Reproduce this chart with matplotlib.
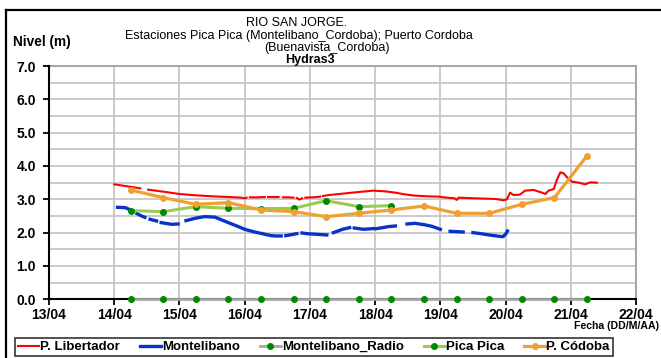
import numpy as np
import matplotlib
matplotlib.use("Agg")
import matplotlib.pyplot as plt
from matplotlib.lines import Line2D

plt.rcParams['font.family'] = ['Liberation Sans', 'DejaVu Sans']

# ---- data -------------------------------------------------------------
nan = np.nan

dias = [13, 14, 15, 16, 17, 18, 19, 20, 21, 22]
etiquetas_x = ["13/04", "14/04", "15/04", "16/04", "17/04",
               "18/04", "19/04", "20/04", "21/04", "22/04"]
niveles_y = [0, 1, 2, 3, 4, 5, 6, 7]
etiquetas_y = ["0.0", "1.0", "2.0", "3.0", "4.0", "5.0", "6.0", "7.0"]

# P. Libertador (hourly-ish record, NaN = missing readings)
libertador_t = [14.00, 14.10, 14.23, 14.40, nan, 14.52, 14.75, 15.00, 15.25, 15.50,
                15.75, 15.95, 16.00, 16.03, nan, 16.08, 16.20, 16.31, nan, 16.36,
                16.45, 16.52, nan, 16.59, 16.68, 16.75, nan, 16.80, 16.84, 16.88,
                nan, 16.93, 17.05, 17.16, nan, 17.20, 17.30, 17.45, 17.60, 17.75,
                17.97, 18.15, 18.31, 18.45, 18.61, 18.80, 18.97, 19.10, 19.22, 19.25,
                19.28, 19.40, 19.53, 19.70, 19.85, 19.97, 20.02, 20.07, 20.12, 20.22,
                20.30, 20.43, 20.56, 20.61, 20.66, 20.74, 20.79, 20.84, 20.89, 20.97,
                21.02, 21.12, 21.22, 21.30, 21.40]
libertador_v = [3.45, 3.42, 3.38, 3.33, nan, 3.29, 3.23, 3.16, 3.12, 3.09,
                3.07, 3.05, 3.03, 3.05, nan, 3.06, 3.06, 3.07, nan, 3.07,
                3.07, 3.07, nan, 3.06, 3.06, 3.05, nan, 3.04, 2.99, 3.03,
                nan, 3.05, 3.06, 3.08, nan, 3.10, 3.13, 3.16, 3.19, 3.22,
                3.26, 3.24, 3.20, 3.15, 3.11, 3.09, 3.08, 3.05, 3.03, 2.98,
                3.05, 3.04, 3.03, 3.02, 3.01, 2.97, 3.00, 3.20, 3.13, 3.14,
                3.26, 3.28, 3.20, 3.16, 3.26, 3.31, 3.60, 3.81, 3.78, 3.60,
                3.53, 3.50, 3.45, 3.51, 3.50]

# Montelibano
montelibano_t = [14.05, 14.17, 14.30, nan, 14.35, 14.42, 14.47, nan, 14.55, 14.65,
                 nan, 14.72, 14.88, 14.98, nan, 15.10, 15.24, 15.35, nan, 15.40,
                 15.50, nan, 15.55, 15.75, 15.93, 16.00, 16.13, 16.36, nan, 16.41,
                 16.48, 16.56, nan, 16.63, 16.72, 16.80, nan, 16.88, 16.95, 17.10,
                 17.26, nan, 17.36, 17.50, 17.61, nan, 17.68, 17.82, 17.97, nan,
                 18.02, 18.15, nan, 18.20, 18.31, nan, 18.49, 18.61, 18.75, 18.87,
                 19.00, nan, 19.15, 19.25, 19.35, nan, 19.50, 19.62, 19.75, 19.90,
                 19.96, 20.00, 20.03]
montelibano_v = [2.76, 2.75, 2.64, nan, 2.57, 2.50, 2.46, nan, 2.40, 2.35,
                 nan, 2.30, 2.25, 2.26, nan, 2.36, 2.43, 2.47, nan, 2.48,
                 2.47, nan, 2.46, 2.30, 2.16, 2.10, 2.03, 1.93, nan, 1.91,
                 1.90, 1.90, nan, 1.91, 1.94, 1.97, nan, 1.99, 1.97, 1.95,
                 1.93, nan, 2.00, 2.10, 2.15, nan, 2.14, 2.10, 2.12, nan,
                 2.12, 2.16, nan, 2.18, 2.20, nan, 2.26, 2.28, 2.24, 2.19,
                 2.10, nan, 2.04, 2.03, 2.02, nan, 2.00, 1.97, 1.93, 1.89,
                 1.88, 1.95, 2.05]

# 6-hourly readings (06:00 and 18:00)
lecturas_t = [14.25, 14.75, 15.25, 15.75, 16.25, 16.75, 17.25, 17.75,
              18.25, 18.75, 19.25, 19.75, 20.25, 20.75, 21.25]
radio_v = [0.0, 0.0, 0.0, 0.0, 0.0, 0.0, 0.0, 0.0,
           0.0, 0.0, 0.0, 0.0, 0.0, 0.0, 0.0]
cordoba_v = [3.28, 3.05, 2.85, 2.90, 2.68, 2.63, 2.48, 2.58,
             2.68, 2.80, 2.58, 2.58, 2.85, 3.05, 4.31]

picapica_t = [14.25, 14.75, 15.25, 15.75, 16.25, 16.75, 17.25, 17.75, 18.25]
picapica_v = [2.66, 2.63, 2.78, 2.73, 2.72, 2.73, 2.96, 2.78, 2.81]

# ---- figure -----------------------------------------------------------
W, H = 661, 358
fig = plt.figure(figsize=(W / 100, H / 100), dpi=100)
fig.patch.set_facecolor("white")

ax = fig.add_axes([49 / W, 1 - 299.3 / H, (636 - 49) / W, (299.3 - 66) / H])

rojo = "#FF0000"
azul = "#0A32C8"
gris = "#A6A6A6"
verde_claro = "#99CC55"
verde_osc = "#008A00"
naranja = "#F0A030"

ax.plot(libertador_t, libertador_v, color=rojo, lw=1.5, zorder=3)
ax.plot(montelibano_t, montelibano_v, color=azul, lw=2.4, zorder=4)
ax.plot(lecturas_t, radio_v, color=gris, lw=2, marker="o", ms=4,
        mfc=verde_osc, mec=verde_osc, zorder=5, clip_on=False)
ax.plot(picapica_t, picapica_v, color=verde_claro, lw=2.2, marker="o", ms=4,
        mfc=verde_osc, mec=verde_osc, zorder=6)
ax.plot(lecturas_t, cordoba_v, color=naranja, lw=2.3, marker="o", ms=4,
        mfc=naranja, mec=naranja, zorder=7)

ax.set_xlim(13, 22)
ax.set_ylim(0, 7)
ax.set_xticks(dias)
ax.set_xticklabels(etiquetas_x)
ax.set_yticks(niveles_y)
ax.set_yticklabels(etiquetas_y)
ax.set_yticks(np.arange(0.5, 7, 1.0), minor=True)

ax.grid(True, which="both", axis="y", color="#C6C6C6", lw=1.3, zorder=0)
ax.grid(True, which="major", axis="x", color="#C6C6C6", lw=1.3, zorder=0)
ax.set_axisbelow(True)

ax.tick_params(axis="both", which="major", labelsize=10, width=1.3, length=4.5,
               direction="out", color="black")
ax.tick_params(axis="y", which="major", pad=5)
ax.tick_params(axis="x", which="major", pad=2)
ax.tick_params(axis="y", which="minor", length=0)
for lab in ax.get_xticklabels() + ax.get_yticklabels():
    lab.set_fontweight("bold")

for s in ("left", "bottom"):
    ax.spines[s].set_color("black")
    ax.spines[s].set_linewidth(1.5)
    ax.spines[s].set_zorder(4.5)
for s in ("top", "right"):
    ax.spines[s].set_color("#A0A0A0")
    ax.spines[s].set_linewidth(1.3)

# titles and axis captions
titulos = [("RIO SAN JORGE.", 297, 22.5, "normal"),
           ("Estaciones Pica Pica (Montelibano_Cordoba); Puerto Cordoba", 299, 35.5, "normal"),
           ("(Buenavista_Cordoba)", 327, 48, "normal"),
           ("Hydras3", 310, 60, "bold")]
for txt, px, py, peso in titulos:
    fig.text(px / W, 1 - py / H, txt, ha="center", va="center",
             fontsize=9, fontweight=peso)
fig.text(13 / W, 1 - 42 / H, "Nivel (m)", ha="left", va="center",
         fontsize=9.8, fontweight="bold")
fig.text(659 / W, 1 - 326 / H, "Fecha (DD/M/AA)", ha="right", va="center",
         fontsize=7.6, fontweight="bold")

# outer frame
fig.add_artist(Line2D([6 / W, 6 / W], [0, 1 - 10 / H], transform=fig.transFigure,
                      color="black", lw=1.6))
fig.add_artist(Line2D([6 / W, 1], [1 - 10 / H, 1 - 10 / H], transform=fig.transFigure,
                      color="black", lw=1.6))

# legend
handles = [
    Line2D([], [], color=rojo, lw=1.5),
    Line2D([], [], color=azul, lw=2.4),
    Line2D([], [], color=gris, lw=2, marker="o", ms=4, mfc=verde_osc, mec=verde_osc),
    Line2D([], [], color=verde_claro, lw=2.2, marker="o", ms=4, mfc=verde_osc, mec=verde_osc),
    Line2D([], [], color=naranja, lw=2.3, marker="o", ms=4, mfc=naranja, mec=naranja),
]
nombres = ["P. Libertador", "Montelibano", "Montelibano_Radio", "Pica Pica", "P. Códoba"]
leg = fig.legend(handles, nombres, loc="center left",
                 bbox_to_anchor=(15 / W, 1 - 347 / H), borderaxespad=0,
                 ncol=5, frameon=True, fancybox=False, edgecolor="black",
                 handlelength=1.6, handletextpad=0.08, columnspacing=1.5,
                 borderpad=0.25,
                 prop={"weight": "bold", "size": 9.5})
leg.get_frame().set_linewidth(1.2)

fig.savefig("out.png", dpi=100)
